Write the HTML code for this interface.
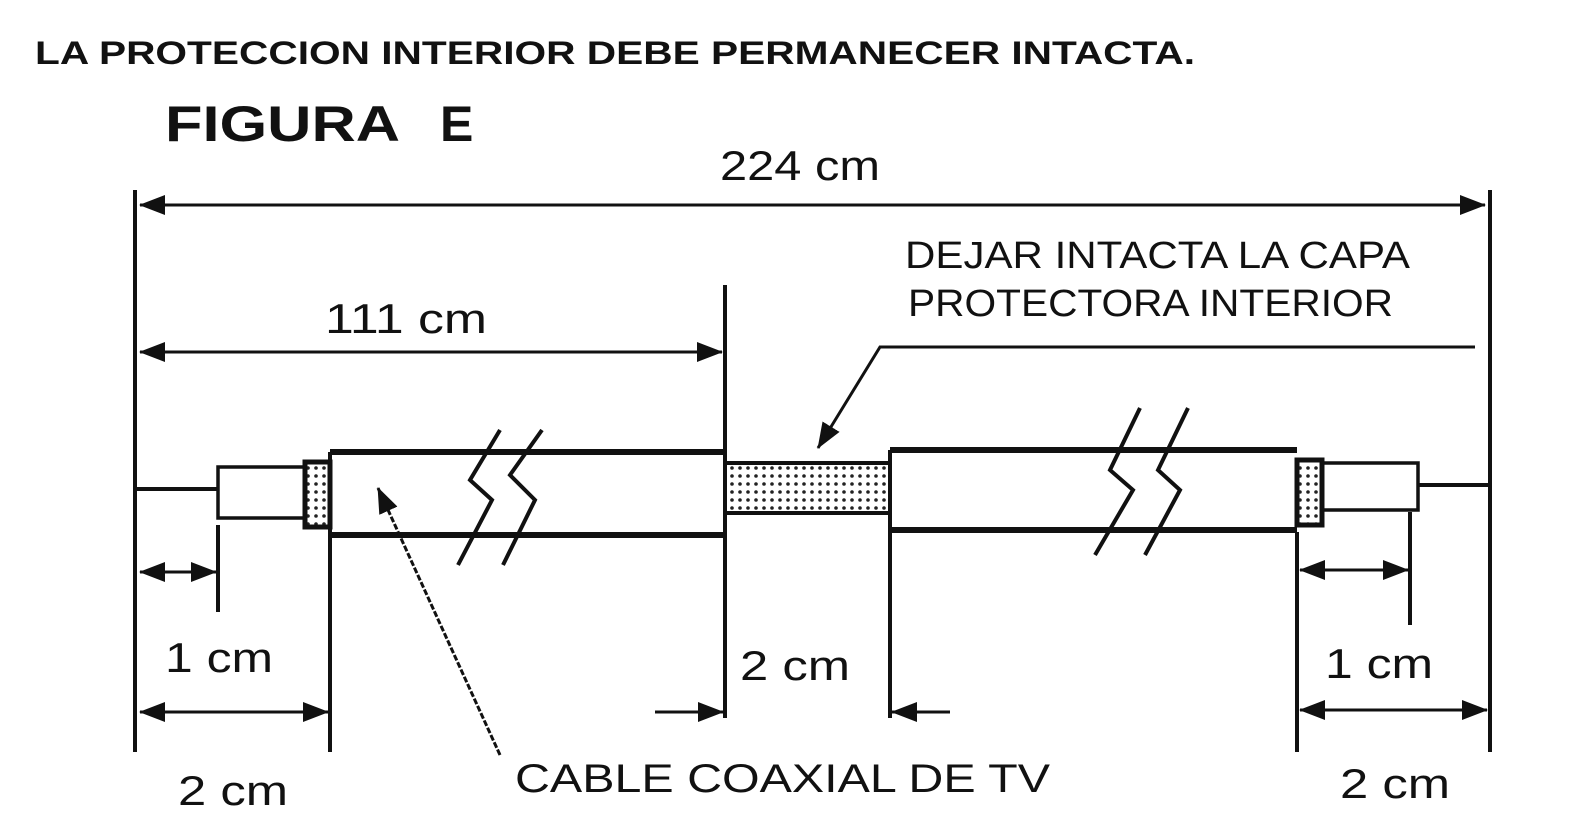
<!DOCTYPE html>
<html><head><style>
html,body{margin:0;padding:0;background:#fff;}
svg{display:block}
text{font-family:"Liberation Sans",Arial,sans-serif;fill:#111}
</style></head><body>
<svg width="1581" height="838" viewBox="0 0 1581 838" xmlns="http://www.w3.org/2000/svg">
<defs>
<pattern id="dots" width="8" height="8" patternUnits="userSpaceOnUse">
<rect width="8" height="8" fill="#fff"/><circle cx="4" cy="4" r="1.8" fill="#222"/>
</pattern>
<marker id="ah" viewBox="0 0 26 22" refX="25" refY="11" markerWidth="26" markerHeight="22" markerUnits="userSpaceOnUse" orient="auto-start-reverse">
<path d="M0,1 L26,11 L0,21 Z" fill="#111"/>
</marker>
</defs>
<g stroke="#111" stroke-width="4" fill="none">
<text x="35" y="64" font-size="32" font-weight="bold" stroke="none" textLength="1160" lengthAdjust="spacingAndGlyphs">LA PROTECCION INTERIOR DEBE PERMANECER INTACTA.</text>
<text x="165" y="141" font-size="50" font-weight="bold" stroke="none" textLength="235" lengthAdjust="spacingAndGlyphs">FIGURA</text>
<text x="440" y="141" font-size="50" font-weight="bold" stroke="none">E</text>
<text x="720" y="180" font-size="42" stroke="none" textLength="160" lengthAdjust="spacingAndGlyphs">224 cm</text>
<text x="325" y="333" font-size="42" stroke="none" textLength="162" lengthAdjust="spacingAndGlyphs">111 cm</text>
<text x="905" y="268" font-size="38" stroke="none" textLength="505" lengthAdjust="spacingAndGlyphs">DEJAR INTACTA LA CAPA</text>
<text x="908" y="316" font-size="38" stroke="none" textLength="485" lengthAdjust="spacingAndGlyphs">PROTECTORA INTERIOR</text>
<text x="165" y="672" font-size="42" stroke="none" textLength="108" lengthAdjust="spacingAndGlyphs">1 cm</text>
<text x="1325" y="678" font-size="42" stroke="none" textLength="108" lengthAdjust="spacingAndGlyphs">1 cm</text>
<text x="740" y="680" font-size="42" stroke="none" textLength="110" lengthAdjust="spacingAndGlyphs">2 cm</text>
<text x="178" y="805" font-size="42" stroke="none" textLength="110" lengthAdjust="spacingAndGlyphs">2 cm</text>
<text x="1340" y="798" font-size="42" stroke="none" textLength="110" lengthAdjust="spacingAndGlyphs">2 cm</text>
<text x="515" y="792" font-size="40" stroke="none" textLength="535" lengthAdjust="spacingAndGlyphs">CABLE COAXIAL DE TV</text>

<line x1="135" y1="190" x2="135" y2="752"/>
<line x1="1490" y1="190" x2="1490" y2="752"/>
<line x1="725" y1="285" x2="725" y2="718"/>
<line x1="330" y1="452" x2="330" y2="752"/>
<line x1="218" y1="525" x2="218" y2="612"/>
<line x1="1410" y1="512" x2="1410" y2="625"/>
<line x1="1297" y1="532" x2="1297" y2="752"/>
<line x1="890" y1="530" x2="890" y2="718"/>

<line x1="140" y1="205" x2="1485" y2="205" marker-start="url(#ah)" marker-end="url(#ah)" stroke-width="3"/>
<line x1="140" y1="352" x2="722" y2="352" marker-start="url(#ah)" marker-end="url(#ah)" stroke-width="3"/>
<line x1="140" y1="572" x2="216" y2="572" marker-start="url(#ah)" marker-end="url(#ah)" stroke-width="3"/>
<line x1="1300" y1="570" x2="1408" y2="570" marker-start="url(#ah)" marker-end="url(#ah)" stroke-width="3"/>
<line x1="140" y1="712" x2="328" y2="712" marker-start="url(#ah)" marker-end="url(#ah)" stroke-width="3"/>
<line x1="1300" y1="710" x2="1487" y2="710" marker-start="url(#ah)" marker-end="url(#ah)" stroke-width="3"/>
<line x1="655" y1="712" x2="723" y2="712" marker-end="url(#ah)" stroke-width="3"/>
<line x1="950" y1="712" x2="892" y2="712" marker-end="url(#ah)" stroke-width="3"/>

<line x1="135" y1="489" x2="218" y2="489"/>
<rect x="218" y="467" width="87" height="51" stroke-width="3.5"/>
<rect x="305" y="462" width="25" height="65" fill="url(#dots)" stroke-width="5"/>
<line x1="330" y1="452" x2="725" y2="452" stroke-width="6"/>
<line x1="330" y1="535" x2="725" y2="535" stroke-width="6"/>
<rect x="725" y="463" width="165" height="50" fill="url(#dots)" stroke-width="4"/>
<line x1="890" y1="450" x2="890" y2="532"/>
<line x1="890" y1="450" x2="1297" y2="450" stroke-width="6"/>
<line x1="890" y1="530" x2="1297" y2="530" stroke-width="6"/>
<rect x="1297" y="460" width="25" height="65" fill="url(#dots)" stroke-width="5"/>
<rect x="1322" y="463" width="96" height="47" stroke-width="3.5"/>
<line x1="1418" y1="485" x2="1490" y2="485"/>

<path d="M500,430 L470,480 L492,500 L458,565" stroke-width="4"/>
<path d="M542,430 L510,475 L535,500 L503,565" stroke-width="4"/>
<path d="M1140,408 L1110,470 L1133,490 L1095,555" stroke-width="4"/>
<path d="M1188,408 L1158,470 L1180,490 L1145,555" stroke-width="4"/>

<path d="M1475,347 L880,347 L818,448" stroke-width="3" marker-end="url(#ah)"/>
<line x1="500" y1="755" x2="378" y2="488" stroke-width="3" stroke-dasharray="6,2" marker-end="url(#ah)"/>
</g>
</svg>
</body></html>
